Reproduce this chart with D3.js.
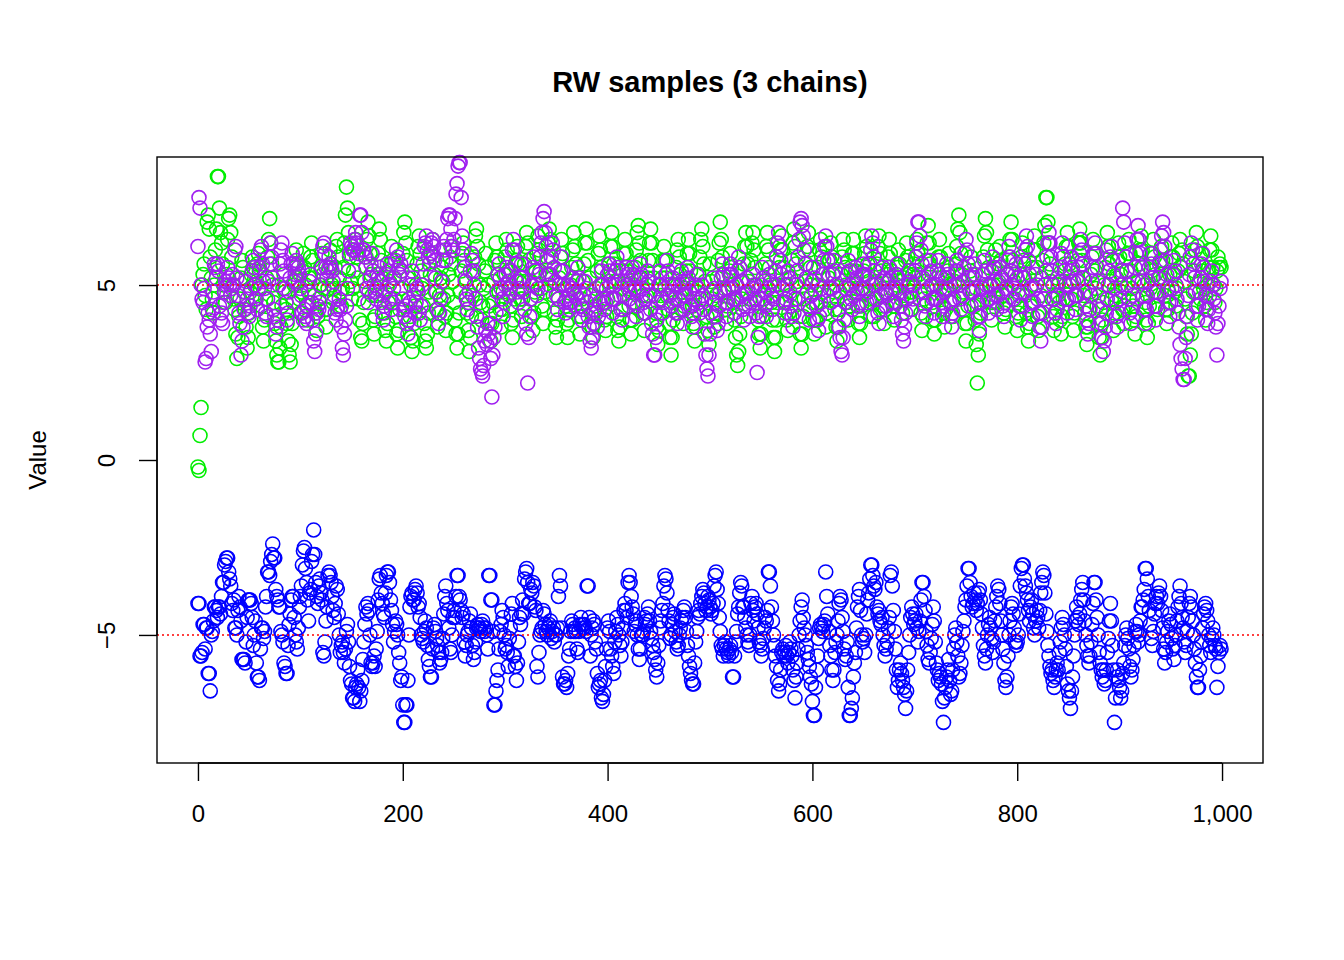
<!DOCTYPE html>
<html>
<head>
<meta charset="utf-8">
<script src="https://cdn.jsdelivr.net/npm/d3@7"></script>
<style>
  body { margin: 0; background: #fff; }
  text { font-family: "Liberation Sans", Arial, sans-serif; }
</style>
</head>
<body>
<svg id="chart"></svg>
<script>
// chain values (one per iteration, 0..999)
const blueChain = [
-4.1,-4.1,-5.6,-5.6,-5.5,-4.7,-4.7,-5.4,-4.8,-4.8,-6.1,-6.1,-6.6,-5.0,-4.9,-4.6,-4.2,-4.2,-4.3,-4.5,
-4.2,-4.2,-4.4,-3.9,-3.5,-3.5,-3.0,-2.9,-2.8,-2.8,-3.2,-3.4,-3.6,-4.1,-4.3,-4.0,-4.8,-4.8,-5.0,-4.3,
-3.9,-4.2,-4.6,-5.7,-5.7,-5.7,-5.8,-5.2,-4.5,-4.0,-4.0,-4.0,-4.1,-4.5,-5.3,-5.0,-4.6,-5.8,-6.2,-6.2,
-6.3,-5.4,-4.8,-4.8,-5.1,-4.9,-4.2,-3.9,-3.2,-3.2,-3.3,-2.9,-2.7,-2.4,-2.8,-2.8,-3.7,-3.9,-4.0,-4.2,
-4.2,-4.9,-5.0,-5.2,-5.8,-5.9,-6.1,-6.1,-5.3,-4.7,-4.4,-4.0,-3.9,-3.9,-4.5,-5.0,-5.2,-5.4,-4.8,-4.2,
-3.9,-3.6,-3.0,-2.6,-2.5,-3.1,-3.5,-4.0,-4.6,-3.8,-3.7,-2.9,-2.7,-2.0,-2.7,-3.5,-3.9,-4.1,-3.6,-3.4,
-3.8,-4.0,-5.5,-5.6,-5.2,-4.6,-4.2,-3.3,-3.2,-3.3,-3.5,-3.9,-4.3,-4.5,-4.1,-3.6,-3.7,-4.4,-5.0,-5.5,
-5.3,-5.2,-5.5,-5.8,-5.4,-4.9,-4.7,-5.2,-5.9,-6.3,-6.4,-6.8,-6.8,-6.9,-6.5,-6.4,-6.0,-6.5,-6.9,-6.6,
-6.3,-5.7,-5.2,-4.7,-4.2,-4.4,-4.1,-4.3,-5.0,-5.8,-5.9,-5.8,-5.6,-5.9,-5.4,-4.9,-4.0,-3.4,-3.3,-3.8,
-4.1,-4.4,-4.5,-3.8,-3.3,-3.2,-3.2,-3.5,-4.0,-4.3,-4.7,-5.2,-4.9,-4.6,-4.7,-5.0,-5.5,-5.8,-6.3,-6.2,
-7.0,-7.5,-7.5,-7.0,-7.0,-6.3,-5.0,-4.2,-3.9,-3.8,-4.0,-4.0,-3.7,-3.6,-3.8,-4.2,-4.1,-4.5,-5.0,-5.1,
-5.2,-4.9,-4.6,-4.8,-5.3,-5.7,-5.9,-6.2,-6.2,-5.4,-4.8,-4.7,-4.9,-5.1,-5.3,-5.5,-5.8,-5.7,-5.5,-5.1,
-4.4,-3.9,-3.6,-4.1,-4.3,-4.8,-5.4,-5.5,-5.0,-4.5,-4.3,-4.5,-3.9,-3.3,-3.3,-3.9,-4.0,-4.3,-4.5,-4.4,
-5.2,-5.6,-5.3,-5.0,-4.9,-4.6,-4.4,-4.8,-5.3,-5.7,-5.5,-5.2,-4.8,-4.7,-4.8,-4.8,-4.9,-4.7,-4.6,-4.8,
-4.9,-4.8,-5.0,-5.4,-3.3,-3.3,-4.0,-4.0,-4.9,-7.0,-7.0,-6.6,-6.3,-6.0,-5.4,-4.9,-4.7,-4.3,-4.5,-5.0,
-5.4,-5.3,-5.5,-5.9,-5.1,-4.8,-4.4,-4.1,-5.6,-5.6,-5.9,-6.3,-5.8,-5.2,-4.5,-4.7,-4.4,-4.0,-4.4,-3.4,
-3.2,-3.1,-3.5,-4.1,-4.1,-3.7,-3.8,-3.5,-3.6,-4.2,-4.3,-5.9,-6.2,-5.5,-5.0,-4.9,-4.8,-4.3,-4.4,-4.7,
-4.9,-5.0,-4.8,-4.7,-4.6,-5.1,-4.9,-4.8,-5.2,-5.0,-5.0,-4.8,-3.9,-3.3,-3.6,-4.8,-6.2,-6.4,-6.4,-6.3,
-6.5,-6.1,-5.6,-5.4,-4.9,-4.6,-4.7,-4.9,-4.8,-4.9,-5.4,-5.5,-4.9,-4.7,-4.5,-4.7,-4.8,-4.7,-4.8,-4.9,
-3.6,-3.6,-4.5,-5.6,-5.0,-4.8,-4.6,-4.7,-5.2,-5.4,-6.1,-6.5,-6.4,-6.3,-6.8,-6.9,-6.7,-6.3,-5.9,-5.4,
-4.8,-4.6,-4.9,-5.4,-5.6,-5.9,-6.1,-5.2,-4.9,-4.5,-4.7,-5.0,-5.3,-5.6,-5.2,-4.8,-4.3,-4.1,-4.3,-4.5,
-3.5,-3.3,-3.5,-3.9,-4.2,-4.4,-4.9,-4.7,-4.6,-5.0,-5.4,-5.7,-5.4,-5.0,-5.0,-4.9,-4.5,-4.7,-4.6,-4.4,
-4.2,-4.6,-4.9,-5.1,-5.3,-5.5,-5.7,-6.0,-6.2,-5.8,-5.3,-4.8,-4.6,-4.3,-4.1,-3.6,-3.3,-3.4,-3.8,-4.3,
-4.6,-5.1,-5.0,-4.7,-4.5,-4.4,-4.9,-5.2,-5.4,-5.3,-5.0,-4.8,-4.6,-4.5,-4.3,-4.2,-4.5,-4.9,-5.3,-5.6,
-5.9,-6.1,-6.3,-6.4,-6.4,-5.8,-5.2,-4.9,-4.5,-4.3,-4.4,-4.1,-3.9,-3.7,-3.8,-4.1,-4.3,-4.2,-3.9,-4.0,
-4.2,-4.4,-4.3,-4.1,-3.6,-3.3,-3.2,-3.7,-4.1,-4.5,-4.9,-5.3,-5.4,-5.6,-5.3,-5.2,-5.4,-5.5,-5.6,-5.4,
-5.3,-5.5,-6.2,-6.2,-5.6,-5.2,-4.9,-4.4,-4.2,-3.8,-3.5,-3.6,-4.2,-4.2,-4.5,-4.8,-5.0,-5.2,-5.3,-5.0,
-4.1,-3.9,-4.3,-4.6,-4.2,-4.1,-4.4,-4.8,-5.2,-5.3,-5.6,-5.4,-5.1,-4.8,-4.5,-4.6,-4.3,-3.2,-3.2,-3.6,
-4.2,-4.6,-5.0,-5.3,-5.6,-5.9,-6.3,-6.6,-6.4,-6.0,-5.5,-5.4,-5.6,-5.5,-5.3,-5.6,-5.8,-5.5,-5.2,-5.4,
-5.6,-6.0,-6.3,-6.8,-6.2,-5.8,-5.4,-5.0,-4.6,-4.2,-4.0,-4.5,-4.8,-5.0,-5.3,-5.5,-5.7,-5.9,-6.2,-6.4,
-6.9,-7.3,-7.3,-6.5,-6.0,-5.6,-5.1,-4.8,-4.7,-4.8,-4.9,-4.7,-4.6,-3.2,-3.9,-4.4,-4.9,-5.3,-5.6,-6.0,
-6.3,-6.0,-5.5,-5.2,-5.0,-4.6,-4.1,-3.9,-4.0,-4.5,-4.9,-5.4,-5.7,-5.6,-5.2,-6.5,-7.3,-7.3,-7.1,-6.8,
-6.2,-5.8,-5.5,-4.8,-4.2,-3.9,-3.7,-4.3,-5.0,-5.2,-5.1,-5.5,-5.0,-4.4,-4.0,-3.8,-3.4,-3.0,-3.0,-3.3,
-3.6,-3.7,-3.5,-4.2,-4.4,-4.3,-4.6,-4.7,-4.5,-5.0,-5.3,-5.6,-5.4,-5.2,-4.8,-4.5,-3.3,-3.2,-3.6,-4.3,
-4.9,-5.4,-6.0,-6.5,-6.3,-6.0,-5.8,-6.1,-6.3,-6.5,-6.7,-7.1,-6.6,-6.0,-5.5,-5.0,-4.5,-4.2,-4.4,-4.7,
-4.6,-4.4,-4.8,-5.2,-4.9,-4.6,-4.0,-3.5,-3.5,-3.9,-4.3,-4.9,-5.3,-5.7,-5.8,-5.5,-5.1,-4.7,-4.2,-4.6,
-5.2,-5.8,-6.0,-6.3,-6.1,-6.2,-6.4,-6.9,-7.5,-6.8,-6.5,-6.2,-6.0,-5.7,-6.3,-6.7,-6.6,-6.0,-5.4,-5.0,
-4.8,-5.2,-5.6,-6.2,-6.1,-5.8,-5.3,-4.9,-4.6,-4.2,-4.0,-3.6,-3.1,-3.1,-3.5,-3.9,-4.2,-4.1,-3.8,-4.0,
-4.3,-4.1,-3.8,-3.7,-4.0,-4.4,-4.8,-5.3,-5.6,-5.8,-5.4,-5.0,-4.7,-4.5,-4.8,-5.1,-5.5,-5.2,-4.6,-4.2,
-3.9,-3.6,-3.7,-4.1,-4.6,-5.0,-5.4,-5.8,-6.3,-6.5,-6.2,-5.6,-5.0,-4.6,-4.2,-4.1,-4.4,-4.8,-5.2,-5.3,
-5.2,-5.0,-4.4,-3.6,-3.1,-3.0,-3.0,-3.4,-3.6,-3.8,-4.0,-4.3,-4.6,-4.2,-4.0,-4.4,-4.8,-5.0,-4.6,-4.3,
-4.5,-4.8,-4.3,-3.8,-3.5,-3.2,-3.3,-3.8,-4.4,-4.9,-5.3,-5.6,-5.9,-6.1,-6.0,-6.3,-6.5,-6.2,-6.0,-5.8,
-6.0,-5.5,-5.2,-4.8,-4.5,-4.7,-5.0,-5.4,-5.9,-6.4,-6.6,-6.8,-7.1,-6.6,-6.2,-5.6,-5.0,-4.6,-4.2,-4.5,
-4.7,-4.4,-4.0,-3.7,-3.5,-4.0,-4.6,-5.0,-5.3,-5.6,-5.8,-5.6,-5.2,-4.7,-4.1,-3.5,-3.5,-4.0,-4.5,-5.0,
-5.5,-5.8,-6.0,-6.2,-6.0,-6.4,-6.3,-6.0,-5.5,-5.1,-4.6,-4.1,-4.6,-5.3,-6.0,-7.5,-6.8,-6.2,-6.0,-6.3,
-6.5,-6.8,-6.6,-6.1,-5.8,-5.3,-5.0,-4.8,-5.1,-5.4,-5.9,-6.2,-6.0,-5.7,-5.3,-4.9,-4.7,-4.9,-5.2,-5.0,
-4.6,-4.2,-4.2,-4.0,-3.7,-3.1,-3.1,-3.4,-3.9,-4.3,-4.7,-5.1,-5.3,-4.9,-4.4,-4.1,-3.9,-4.1,-3.8,-3.6,
-3.9,-4.3,-4.8,-5.4,-5.8,-5.5,-5.2,-4.9,-4.6,-4.4,-4.7,-5.1,-5.4,-5.7,-5.3,-5.0,-4.6,-4.2,-3.9,-3.6,
-4.1,-4.5,-4.8,-5.2,-5.5,-5.3,-4.9,-4.5,-4.1,-3.9,-4.2,-4.6,-5.0,-5.4,-5.8,-6.2,-6.5,-6.5,-6.0,-5.6,
-5.2,-4.8,-4.4,-4.2,-4.1,-4.3,-4.6,-5.0,-5.3,-5.5,-5.1,-4.8,-5.0,-5.3,-5.4,-6.5,-5.9,-5.5,-5.3,-5.4
];

const greenChain = [
-0.2,-0.3,0.7,1.5,5.0,5.3,5.6,4.7,4.3,6.8,7.0,6.6,5.8,5.2,4.6,4.2,5.0,6.0,6.6,8.1,
8.1,7.2,6.5,6.2,5.6,5.0,4.8,4.5,5.3,6.3,6.9,7.0,6.5,5.8,5.0,4.6,4.3,3.6,2.9,3.5,
4.1,4.6,5.2,5.7,5.5,4.8,4.3,3.8,3.2,3.5,4.2,4.8,5.3,5.8,5.5,5.0,4.6,5.1,5.6,5.9,
5.4,4.9,4.4,3.8,3.4,4.0,4.6,5.2,5.8,6.3,6.9,6.2,5.6,5.0,4.5,3.9,3.4,3.0,2.8,2.8,
3.2,3.8,4.4,4.9,5.3,4.8,4.3,3.9,3.4,3.0,2.8,3.3,3.9,4.5,5.0,5.5,6.0,5.6,5.1,4.6,
4.2,4.8,5.4,5.9,5.5,5.0,4.4,4.0,4.5,5.2,5.8,6.2,5.7,5.2,4.7,4.2,3.7,4.1,4.6,5.0,
5.5,5.9,5.3,4.9,4.3,3.8,4.3,4.9,5.5,6.0,5.6,5.0,4.5,4.9,5.5,6.1,6.3,5.8,5.2,4.8,
4.4,4.9,5.5,6.2,7.0,7.8,7.2,6.5,5.8,5.1,4.6,4.9,5.4,6.0,6.3,5.8,5.2,4.6,4.0,3.5,
3.4,3.9,4.5,5.1,5.8,6.3,6.8,6.4,5.9,5.3,4.7,4.0,3.6,4.1,4.7,5.3,5.9,6.6,6.3,5.7,
5.2,4.7,4.2,3.7,3.4,3.9,4.5,5.1,5.6,6.1,5.7,5.2,4.6,4.1,3.6,3.2,3.7,4.3,4.9,5.4,
5.9,6.5,6.8,6.2,5.7,5.2,4.6,4.1,3.5,3.1,3.4,3.9,4.4,5.0,5.6,6.1,6.4,5.9,5.4,4.9,
4.4,3.9,3.4,3.2,3.6,4.2,4.8,5.3,5.9,6.3,5.8,5.3,4.8,4.3,3.8,4.2,4.7,5.2,5.5,5.1,
4.6,4.1,3.7,4.2,4.7,5.3,5.8,6.1,5.6,5.1,4.5,4.0,3.6,3.2,3.6,4.2,4.8,5.4,5.9,6.2,
5.7,5.2,4.7,4.2,3.7,3.1,3.5,4.1,4.7,5.3,5.8,6.4,6.6,6.1,5.6,5.0,4.5,4.0,4.4,4.9,
5.4,5.9,5.5,5.0,4.4,3.9,3.4,3.9,4.5,5.1,5.7,6.2,5.8,5.3,4.8,4.3,3.8,4.3,4.8,5.3,
5.8,6.3,6.0,5.4,4.9,4.4,3.9,3.5,4.0,4.6,5.2,5.7,6.1,5.6,5.1,4.6,4.1,4.6,5.1,5.6,
6.1,6.5,6.2,5.7,5.1,4.6,4.1,3.7,4.2,4.8,5.4,5.9,6.4,6.0,5.4,4.9,4.4,3.9,4.3,4.8,
5.3,5.8,6.2,6.6,6.3,5.8,5.2,4.7,4.2,3.8,3.5,4.0,4.6,5.2,5.8,6.3,5.9,5.4,4.9,4.4,
3.9,3.5,4.0,4.5,5.0,5.5,6.0,6.5,6.1,5.6,5.1,4.6,4.1,3.6,4.1,4.6,5.1,5.6,6.2,6.6,
6.2,5.7,5.2,4.7,4.2,3.8,3.5,3.9,4.4,4.9,5.4,5.9,6.4,6.0,5.5,5.0,4.5,4.0,3.7,4.1,
4.6,5.1,5.6,6.1,6.5,6.1,5.6,5.1,4.6,4.1,3.7,3.4,3.8,4.3,4.9,5.4,5.9,6.3,5.9,5.4,
4.9,4.4,4.0,3.6,4.0,4.5,5.0,5.5,6.0,6.5,6.7,6.2,5.7,5.2,4.7,4.2,3.7,4.2,4.7,5.2,
5.7,6.2,6.6,6.2,5.7,5.2,4.7,4.2,3.8,3.3,3.7,4.2,4.7,5.2,5.7,6.1,5.7,5.2,4.7,4.3,
3.9,3.5,3.0,3.5,4.0,4.5,5.0,5.5,6.0,6.3,5.8,5.3,4.8,4.3,3.9,4.4,4.9,5.4,5.9,6.3,
5.9,5.4,4.9,4.4,3.9,3.4,3.8,4.3,4.8,5.3,5.8,6.3,6.6,6.1,5.6,5.1,4.6,4.1,3.7,3.3,
5.6,5.1,4.6,4.1,3.8,4.2,4.7,5.2,5.7,6.2,6.8,6.3,5.8,5.3,4.8,4.3,3.9,4.4,4.9,5.4,
5.9,5.5,5.0,4.5,4.0,3.5,3.0,2.7,3.1,3.6,4.1,4.6,5.1,5.6,6.1,6.5,6.1,5.6,5.1,4.6,
5.7,6.2,6.5,6.0,5.5,5.0,4.5,4.0,3.6,3.2,3.6,4.1,4.6,5.1,5.6,6.1,6.5,6.0,5.5,5.0,
4.5,4.0,3.5,3.1,3.5,4.0,4.5,5.0,5.5,6.0,6.4,6.0,5.5,5.0,4.5,4.0,3.7,4.2,4.7,5.2,
5.7,6.2,6.6,6.1,5.6,5.1,4.6,4.1,3.6,3.2,3.6,4.1,4.6,5.1,5.6,6.1,6.5,6.0,5.5,5.0,
4.5,4.0,3.6,4.0,4.5,5.0,5.5,6.0,6.3,5.8,5.3,4.8,4.3,3.8,4.2,4.7,5.2,5.7,6.2,5.8,
5.3,4.8,4.3,3.8,3.4,3.8,4.3,4.8,5.3,5.8,6.3,6.0,5.5,5.0,4.5,4.0,4.4,4.9,5.4,5.9,
6.3,5.9,5.4,4.9,4.4,3.9,3.5,3.9,4.4,4.9,5.4,5.9,6.4,6.1,5.6,5.1,4.6,4.1,4.5,5.0,
4.1,4.6,5.1,5.6,6.1,6.4,5.9,5.4,4.9,4.4,3.9,4.3,4.8,5.3,5.8,6.3,5.9,5.4,4.9,4.4,
4.0,4.5,5.0,5.5,6.0,5.6,5.1,4.6,4.2,4.7,5.2,5.7,6.2,5.8,5.3,4.8,4.3,4.8,5.3,5.6,
5.2,5.8,6.3,5.9,5.3,4.8,4.2,3.7,4.1,4.6,5.1,5.7,6.2,6.7,6.2,5.6,5.0,4.5,4.0,3.6,
4.0,4.6,5.2,5.8,6.3,5.8,5.2,4.7,4.2,3.8,4.3,4.9,5.4,5.9,5.5,5.0,4.5,4.1,4.6,5.1,
5.6,6.1,6.6,7.0,6.5,5.9,5.3,4.8,4.3,3.9,3.4,3.9,4.4,4.9,5.4,5.8,5.3,4.8,4.4,4.0,
3.3,2.2,3.0,3.6,4.2,4.8,5.3,5.8,6.4,6.9,6.5,6.0,5.5,5.0,4.5,4.0,4.5,5.0,5.5,6.0,
4.5,5.0,5.6,6.1,5.7,5.2,4.7,4.2,3.8,4.3,4.8,5.3,5.8,6.3,6.8,6.3,5.7,5.1,4.6,4.1,
3.7,4.2,4.7,5.3,5.8,6.2,5.7,5.2,4.7,4.2,3.8,3.4,3.9,4.4,5.0,5.5,6.0,6.4,6.0,5.5,
4.1,3.7,4.2,4.7,5.2,5.7,6.2,6.7,7.5,7.5,6.8,6.2,5.6,5.1,4.6,4.1,3.7,4.2,4.7,5.2,
5.0,4.5,4.0,3.6,4.1,4.6,5.1,5.6,6.1,6.5,6.1,5.6,5.1,4.6,4.1,3.7,4.2,4.7,5.2,5.7,
6.2,6.6,6.2,5.7,5.2,4.7,4.2,3.8,3.3,3.8,4.3,4.8,5.3,5.8,6.3,5.9,5.4,4.9,4.4,3.9,
3.5,3.0,3.5,4.0,4.5,5.0,5.5,6.0,6.5,6.1,5.6,5.1,4.6,4.1,3.7,4.2,4.7,5.2,5.7,6.2,
5.8,5.3,4.8,4.3,3.9,4.4,4.9,5.4,5.9,6.3,5.9,5.4,4.9,4.4,4.0,3.6,4.1,4.6,5.1,5.6,
6.0,6.4,6.0,5.5,5.0,4.5,4.0,3.5,3.9,4.4,4.9,5.4,5.9,6.3,5.8,5.3,4.8,4.3,4.7,5.2,
5.7,6.1,5.7,5.2,4.7,4.3,3.9,4.3,4.8,5.3,5.8,6.2,5.8,5.3,4.8,4.4,4.9,5.4,5.9,6.3,
5.5,6.0,5.6,5.1,4.6,4.1,3.6,2.4,2.4,3.0,3.6,4.2,4.8,5.4,6.0,6.5,6.1,5.6,5.1,4.6,
5.9,5.4,4.9,4.4,4.0,4.5,5.0,5.5,6.0,6.4,6.0,5.5,5.0,4.5,4.9,5.4,5.8,5.5,5.6,5.5
];

const purpleChain = [
6.1,7.5,7.2,5.0,4.6,4.5,4.9,2.8,2.9,3.8,4.2,4.0,3.6,3.1,4.3,4.8,5.6,5.5,5.2,5.6,
5.4,4.4,4.0,4.2,3.9,4.5,4.8,5.1,5.0,5.5,5.2,5.0,4.7,4.9,5.3,5.0,6.0,6.1,5.2,4.7,
4.2,3.9,3.0,3.4,3.8,4.3,4.8,5.1,4.6,4.2,4.1,4.4,4.9,5.4,5.7,5.5,5.0,4.6,4.3,4.9,
5.5,6.0,6.1,5.6,5.1,4.9,4.2,4.1,4.6,5.1,5.6,6.2,5.8,5.2,4.3,4.1,3.6,3.8,4.0,5.0,
5.6,6.0,6.2,5.7,5.4,4.9,4.5,4.0,4.2,4.8,5.2,5.6,5.9,5.6,5.1,5.3,5.7,5.6,5.5,5.3,
4.9,4.7,4.2,4.0,4.3,4.1,3.9,4.4,4.8,5.1,5.3,4.5,4.0,3.4,3.1,3.6,4.2,4.4,4.3,4.5,
5.0,5.5,6.1,6.2,5.9,5.5,5.2,5.4,5.8,5.6,5.5,5.4,5.1,4.7,4.2,4.0,4.3,4.4,4.6,4.3,
3.8,3.2,3.0,3.6,4.0,4.4,4.9,5.4,5.9,6.2,6.1,6.0,6.0,6.3,6.5,6.2,5.9,6.0,7.0,7.0,
6.5,6.0,6.0,5.8,5.5,4.9,4.5,4.8,5.2,5.6,5.9,5.4,5.0,4.8,4.6,4.9,5.2,5.5,5.1,4.5,
4.2,4.0,4.4,4.8,5.3,5.6,5.4,5.0,4.6,4.3,4.5,4.9,5.2,5.7,6.0,5.8,5.5,5.3,5.6,5.4,
4.6,4.3,4.1,4.4,3.9,3.6,4.0,4.5,5.0,5.4,5.2,4.7,4.2,4.5,4.9,4.8,4.2,4.0,4.4,5.0,
5.6,6.1,6.2,6.4,6.0,5.8,5.6,5.9,6.2,6.3,6.1,5.7,5.2,4.8,4.3,3.9,4.2,4.6,5.1,5.7,
6.1,6.0,5.7,6.3,6.9,7.0,7.0,6.6,6.1,6.0,6.3,6.9,7.6,7.9,8.4,8.5,8.5,7.5,6.4,6.0,
5.5,5.1,4.6,4.3,4.5,4.8,5.4,5.9,5.7,5.4,5.0,4.6,4.1,3.8,3.2,2.9,2.6,2.5,2.4,2.7,
3.4,3.7,3.3,3.9,3.6,3.4,2.9,1.8,3.0,3.5,3.8,4.2,4.8,5.3,5.6,5.2,4.9,4.6,4.1,4.5,
5.0,5.3,5.5,5.1,4.7,4.9,5.4,6.0,6.3,6.0,5.6,5.1,4.8,4.5,4.9,5.2,5.6,5.2,4.8,4.3,
3.9,3.6,2.2,3.5,4.1,4.6,5.0,5.5,5.8,5.4,5.0,4.7,4.9,5.3,5.8,6.2,6.5,6.9,7.1,6.5,
6.1,5.7,5.3,5.0,5.3,5.8,6.2,6.0,5.5,5.1,4.7,4.3,4.6,5.0,5.4,5.8,5.4,5.0,4.5,4.2,
4.6,5.0,4.7,4.3,4.5,4.9,5.2,4.8,4.4,4.7,5.1,5.5,5.2,4.8,4.4,4.0,4.3,4.7,5.1,4.9,
4.5,4.1,3.8,3.4,3.2,3.5,3.9,4.3,4.6,4.2,3.8,4.1,4.5,5.0,5.4,5.0,4.6,4.3,4.5,4.9,
5.3,5.6,5.4,5.0,4.6,4.2,4.6,5.0,5.4,5.8,5.5,5.1,4.7,4.3,4.0,4.3,4.7,5.1,5.5,5.3,
5.0,4.6,4.8,5.2,5.5,5.3,4.9,4.5,4.1,4.4,4.8,5.2,5.6,5.3,4.9,4.5,4.2,4.6,5.0,5.4,
5.1,4.7,4.3,3.9,3.6,3.0,3.0,3.5,4.0,4.5,5.0,5.4,5.0,4.6,4.2,4.5,4.9,5.3,5.7,5.4,
5.0,4.7,4.4,4.8,5.2,5.0,4.6,4.2,3.9,4.2,4.6,5.0,5.4,5.1,4.7,4.3,4.7,5.1,5.5,5.2,
4.8,4.4,4.1,3.8,4.2,4.6,5.0,5.3,4.9,4.5,4.2,4.6,5.0,4.7,4.3,3.6,3.0,2.6,2.4,3.0,
3.6,4.2,4.8,5.2,4.9,4.5,4.1,3.7,3.9,4.4,4.8,5.2,5.6,5.3,4.9,4.5,4.1,4.5,4.9,5.3,
5.6,5.3,4.9,4.6,4.2,4.6,5.0,5.4,5.8,5.5,5.1,4.7,4.3,4.0,4.4,4.8,5.2,4.8,4.4,4.1,
4.5,4.9,5.3,5.0,4.6,4.2,2.5,3.5,4.1,4.6,5.0,5.5,5.2,4.8,4.4,4.1,4.5,4.9,5.3,5.1,
4.7,4.3,4.6,5.0,5.4,5.8,6.2,6.5,6.1,5.7,5.3,4.9,4.5,4.2,4.6,5.0,5.4,5.2,4.8,4.4,
4.1,3.8,4.2,4.6,5.0,5.4,5.8,6.3,6.8,6.9,6.7,6.4,6.0,5.6,5.2,4.8,4.4,4.0,4.3,4.7,
5.1,5.5,5.2,4.8,4.4,4.0,3.7,4.1,4.5,4.9,5.3,5.7,6.1,6.4,6.1,5.7,5.3,4.9,4.5,4.9,
5.3,5.7,5.4,5.0,4.6,4.2,3.8,3.5,3.1,3.0,3.5,4.0,4.5,4.9,5.3,5.7,5.4,5.0,4.6,4.3,
4.7,5.1,5.5,5.2,4.8,4.4,4.1,4.5,4.9,5.3,5.6,5.3,4.9,4.5,4.8,5.2,5.6,6.0,6.4,6.2,
5.8,5.4,5.0,4.6,4.2,3.9,4.3,4.7,5.1,5.5,5.2,4.8,4.4,4.7,5.1,5.5,5.2,4.8,4.5,4.1,
4.5,4.9,5.3,5.6,5.2,4.8,4.4,4.0,3.6,3.4,3.8,4.2,4.6,5.0,5.4,5.1,4.7,4.3,4.6,5.0,
5.4,5.8,6.2,6.8,6.8,6.4,6.0,5.6,5.2,4.8,4.4,4.1,4.5,4.9,5.3,5.7,5.4,5.0,4.6,4.2,
4.6,5.0,5.4,5.7,5.3,4.9,4.5,4.1,4.4,4.8,5.2,5.6,5.3,4.9,4.5,4.1,3.8,4.2,4.6,5.0,
5.4,5.7,5.4,5.0,4.6,4.3,4.7,5.1,5.5,5.9,6.3,6.0,5.6,5.2,4.8,4.4,4.8,5.2,5.6,5.3,
4.9,4.5,4.1,3.7,4.1,4.5,4.9,5.3,5.7,5.4,5.0,4.6,4.2,4.6,5.0,5.4,5.8,5.5,5.1,4.7,
4.3,4.7,5.1,5.5,5.2,4.8,4.4,4.1,4.5,4.9,5.3,5.7,6.1,5.8,5.4,5.0,4.6,4.9,5.3,5.6,
5.2,4.8,4.4,4.0,4.4,4.8,5.2,5.6,6.0,6.4,6.1,5.7,5.3,4.9,4.5,4.1,4.5,4.9,5.3,5.0,
4.6,4.2,3.8,3.4,3.8,4.2,4.6,5.0,5.4,5.8,6.2,6.5,6.2,5.8,5.4,5.0,4.6,4.2,3.9,4.3,
4.7,5.1,5.5,5.9,6.2,5.8,5.4,5.0,4.6,4.2,4.6,5.0,5.4,5.8,5.5,5.1,4.7,4.3,4.7,5.1,
5.5,5.9,6.3,6.0,5.6,5.2,4.8,4.4,4.0,3.6,3.9,4.3,4.7,5.1,5.5,5.9,6.2,5.9,5.5,5.1,
4.7,4.3,3.9,3.5,3.1,3.4,3.8,4.2,4.6,5.0,5.4,5.8,6.1,5.7,5.3,4.9,4.5,4.1,3.8,4.2,
4.6,5.0,5.4,7.2,6.8,6.2,5.8,5.4,5.0,4.6,4.2,3.9,4.3,4.7,5.1,5.5,5.9,6.3,6.7,6.3,
5.9,5.5,5.1,4.7,4.3,3.9,4.3,4.7,5.1,5.5,5.9,5.6,5.2,4.8,4.4,4.0,4.4,4.8,5.2,5.6,
6.0,6.4,6.8,6.5,6.1,5.7,5.3,4.9,4.5,4.1,4.5,4.9,5.3,5.7,5.4,5.0,4.6,4.2,3.8,3.3,
2.9,2.6,2.3,2.3,2.9,3.5,4.1,4.7,5.3,5.8,6.2,6.0,5.6,5.2,4.8,4.4,4.0,4.4,4.8,5.2,
5.6,5.9,5.5,5.1,4.7,4.3,3.9,4.3,4.7,5.1,5.4,5.0,4.6,4.2,3.8,3.0,3.9,4.4,4.9,5.1
];

const chains = [
  { values: greenChain, color: '#00ee00' },
  { values: purpleChain, color: '#a020f0' },
  { values: blueChain, color: '#0000ff' }
];
const targetLines = [5, -5];
const xTicks = [0, 200, 400, 600, 800, 1000];
const yTicks = [-5, 0, 5];

const width = 1344, height = 960;
const svg = d3.select('#chart').attr('width', width).attr('height', height);
svg.append('rect').attr('width', width).attr('height', height).attr('fill', '#fff');

const plotLeft = 157, plotRight = 1263, plotTop = 157, plotBottom = 763;
const x = d3.scaleLinear().domain([-40, 1040]).range([plotLeft, plotRight]);
const y = d3.scaleLinear().domain([-8.66, 8.66]).range([plotBottom, plotTop]);

chains.forEach(c => {
  svg.append('g').selectAll('circle')
    .data(c.values)
    .join('circle')
    .attr('cx', (d, i) => x(i))
    .attr('cy', d => y(d))
    .attr('r', 7)
    .attr('fill', 'none')
    .attr('stroke', c.color)
    .attr('stroke-width', 1.6);
});

svg.append('g').selectAll('line')
  .data(targetLines)
  .join('line')
  .attr('x1', plotLeft).attr('x2', plotRight)
  .attr('y1', d => y(d)).attr('y2', d => y(d))
  .attr('stroke', '#ff0000')
  .attr('stroke-width', 1.4)
  .attr('stroke-dasharray', '2,3');

svg.append('rect')
  .attr('x', plotLeft).attr('y', plotTop)
  .attr('width', plotRight - plotLeft).attr('height', plotBottom - plotTop)
  .attr('fill', 'none').attr('stroke', '#000').attr('stroke-width', 1.4);

const xAxis = svg.append('g')
  .attr('transform', `translate(0,${plotBottom})`)
  .call(d3.axisBottom(x).tickValues(xTicks).tickSize(18).tickPadding(24).tickSizeOuter(0));
xAxis.select('.domain').attr('d', `M${x(0)},0H${x(1000)}`);

const yAxis = svg.append('g')
  .attr('transform', `translate(${plotLeft},0)`)
  .call(d3.axisLeft(y).tickValues(yTicks).tickSize(18).tickSizeOuter(0));
yAxis.select('.domain').attr('d', `M0,${y(-5)}V${y(5)}`);
yAxis.selectAll('.tick text')
  .attr('transform', 'rotate(-90)')
  .attr('x', 0).attr('y', -50)
  .attr('dy', '0.35em')
  .attr('text-anchor', 'middle');

[xAxis, yAxis].forEach(a => {
  a.selectAll('.domain, .tick line').attr('stroke', '#000').attr('stroke-width', 1.4);
  a.selectAll('.tick text').attr('font-size', 24).attr('fill', '#000')
    .attr('font-family', '"Liberation Sans", Arial, sans-serif');
});

svg.append('text')
  .attr('x', (plotLeft + plotRight) / 2).attr('y', 92)
  .attr('text-anchor', 'middle')
  .attr('font-size', 29).attr('font-weight', 'bold')
  .text('RW samples (3 chains)');

svg.append('text')
  .attr('transform', 'rotate(-90)')
  .attr('x', -y(0)).attr('y', 46)
  .attr('text-anchor', 'middle')
  .attr('font-size', 24)
  .text('Value');
</script>
</body>
</html>
